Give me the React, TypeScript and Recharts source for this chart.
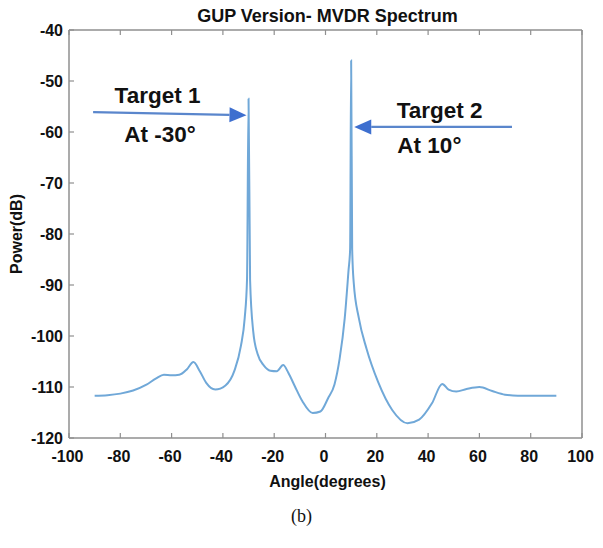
import React from 'react';
import { LineChart, Line, XAxis, YAxis, ReferenceLine, ReferenceDot } from 'recharts';

const angles = [-90, -85, -80, -75, -70, -66, -63, -60, -57, -54, -51.5, -49, -46.5, -43, -39, -35.5, -33, -31.5, -30.6, -30, -29.4, -28.2, -26.5, -24, -21.5, -19, -16.5, -14.5, -12, -9, -5, -2, 1, 3.5, 5.5, 7.5, 9, 9.6, 10, 10.4, 11, 13, 16, 20.5, 26, 32, 36.5, 41.5, 45.5, 48, 51, 55, 60, 65, 70, 75, 80, 85, 90];
const power = [-111.7, -111.6, -111.3, -110.7, -109.6, -108.3, -107.6, -107.7, -107.6, -106.5, -105.1, -106.9, -109.2, -110.5, -109.7, -106.8, -102, -96.5, -89, -53.5, -89, -99, -103.5, -105.8, -106.8, -106.9, -105.7, -107.2, -109.8, -112.8, -115.1, -114.8, -112.2, -109.5, -104.5, -96.5, -87, -83, -46, -83, -89.5, -96.5, -102.5, -109, -114.5, -117.1, -116.4, -113.2, -109.4, -110.5, -110.9, -110.4, -110, -110.8, -111.5, -111.7, -111.7, -111.7, -111.7];

const xTicks = [-100, -80, -60, -40, -20, 0, 20, 40, 60, 80, 100];
const yTicks = [-120, -110, -100, -90, -80, -70, -60, -50, -40];

const title = 'GUP Version- MVDR Spectrum';
const xTitle = 'Angle(degrees)';
const yTitle = 'Power(dB)';
const caption = '(b)';

const annotations = [
  { label: 'Target 1', x: -65.5, y: -54.4 },
  { label: 'At -30°', x: -64.5, y: -62.0 },
  { label: 'Target 2', x: 44.5, y: -57.3 },
  { label: 'At 10°', x: 40.5, y: -64.2 },
];
const arrows = [
  { from: { x: -90.6, y: -56.1 }, to: { x: -30.8, y: -56.7 } },
  { from: { x: 72.7, y: -59.0 }, to: { x: 11.2, y: -59.0 } },
];

const data = angles.map((a, i) => ({ angle: a, power: power[i] }));

const FONT = '"Liberation Sans", Arial, sans-serif';
const BOX = '#8f8f8f';

const BottomTick = (p: any) => (
  <g>
    <line x1={p.x} y1={p.y} x2={p.x} y2={p.y - 5} stroke={BOX} strokeWidth={1.2} />
    <text x={p.x - 1.5} y={p.y + 24} textAnchor="middle" fontFamily={FONT} fontWeight="bold" fontSize={16} fill="#111">
      {p.payload.value}
    </text>
  </g>
);
const TopTick = (p: any) => (
  <line x1={p.x} y1={p.y} x2={p.x} y2={p.y + 5} stroke={BOX} strokeWidth={1.2} />
);
const LeftTick = (p: any) => (
  <g>
    <line x1={p.x} y1={p.y} x2={p.x + 5} y2={p.y} stroke={BOX} strokeWidth={1.2} />
    <text x={p.x - 6} y={p.y + 6} textAnchor="end" fontFamily={FONT} fontWeight="bold" fontSize={16} fill="#111">
      {p.payload.value}
    </text>
  </g>
);
const RightTick = (p: any) => (
  <line x1={p.x} y1={p.y} x2={p.x - 5} y2={p.y} stroke={BOX} strokeWidth={1.2} />
);

const ArrowShape = (p: any) => {
  const { x1, y1, x2, y2 } = p;
  const dx = x2 - x1;
  const dy = y2 - y1;
  const len = Math.sqrt(dx * dx + dy * dy);
  const ux = dx / len;
  const uy = dy / len;
  const hl = 17;
  const hw = 7.5;
  const bx = x2 - ux * hl;
  const by = y2 - uy * hl;
  const pts = `${x2},${y2} ${bx - uy * hw},${by + ux * hw} ${bx + uy * hw},${by - ux * hw}`;
  return (
    <g>
      <line x1={x1} y1={y1} x2={bx} y2={by} stroke="#5a86cc" strokeWidth={2.2} />
      <polygon points={pts} fill="#3e6fcf" />
    </g>
  );
};

export default function App() {
  return (
    <div style={{ position: 'absolute', left: 0, top: 0, width: 603, height: 548, background: '#fff' }}>
      <div
        style={{
          position: 'absolute', left: 69, width: 517, top: 6, textAlign: 'center',
          fontFamily: FONT, fontWeight: 'bold', fontSize: 18, color: '#111', lineHeight: '21px',
        }}
      >
        {title}
      </div>
      <LineChart width={603} height={548} data={data} margin={{ top: 0, right: 0, bottom: 50, left: 9 }}>
        <XAxis
          dataKey="angle" type="number" domain={[-100, 100]} ticks={xTicks} interval={0}
          allowDataOverflow height={60} tickSize={0} tickMargin={0} tickLine={false}
          axisLine={{ stroke: BOX, strokeWidth: 1.5 }} tick={<BottomTick />}
          label={(props: any) => {
            const vb = props.viewBox;
            return (
              <text x={vb.x + vb.width / 2 + 2} y={vb.y + 49} textAnchor="middle" fontFamily={FONT} fontWeight="bold" fontSize={16} fill="#111">
                {xTitle}
              </text>
            );
          }}
        />
        <XAxis
          xAxisId="t" orientation="top" dataKey="angle" type="number" domain={[-100, 100]} ticks={xTicks}
          interval={0} height={30} tickSize={0} tickMargin={0} tickLine={false}
          axisLine={{ stroke: BOX, strokeWidth: 1.5 }} tick={<TopTick />}
        />
        <YAxis
          type="number" domain={[-120, -40]} ticks={yTicks} interval={0} allowDataOverflow width={60}
          tickSize={0} tickMargin={0} tickLine={false} axisLine={{ stroke: BOX, strokeWidth: 1.5 }}
          tick={<LeftTick />}
          label={(props: any) => {
            const vb = props.viewBox;
            const cx = 16;
            const cy = vb.y + vb.height / 2;
            return (
              <text x={cx} y={cy} transform={`rotate(-90, ${cx}, ${cy})`} textAnchor="middle" dominantBaseline="central" fontFamily={FONT} fontWeight="bold" fontSize={16} fill="#111">
                {yTitle}
              </text>
            );
          }}
        />
        <YAxis
          yAxisId="r" orientation="right" type="number" domain={[-120, -40]} ticks={yTicks} interval={0}
          width={21} tickSize={0} tickMargin={0} tickLine={false}
          axisLine={{ stroke: BOX, strokeWidth: 1.5 }} tick={<RightTick />}
        />
        <Line
          type="monotone" dataKey="power" stroke="#70a8d8" strokeWidth={2} dot={false}
          isAnimationActive={false}
        />
        {arrows.map((a, i) => (
          <ReferenceLine key={'a' + i} segment={[a.from, a.to]} ifOverflow="visible" shape={<ArrowShape />} />
        ))}
        {annotations.map((t, i) => (
          <ReferenceDot
            key={'t' + i} x={t.x} y={t.y} r={0} ifOverflow="visible"
            shape={(p: any) => (
              <text x={p.cx} y={p.cy} textAnchor="middle" fontFamily={FONT} fontWeight="bold" fontSize={22.5} fill="#111">
                {t.label}
              </text>
            )}
          />
        ))}
      </LineChart>
      <div
        style={{
          position: 'absolute', left: 0, width: 603, top: 506, textAlign: 'center',
          fontFamily: '"Liberation Serif", "Times New Roman", serif', fontSize: 18, color: '#111',
        }}
      >
        {caption}
      </div>
    </div>
  );
}
